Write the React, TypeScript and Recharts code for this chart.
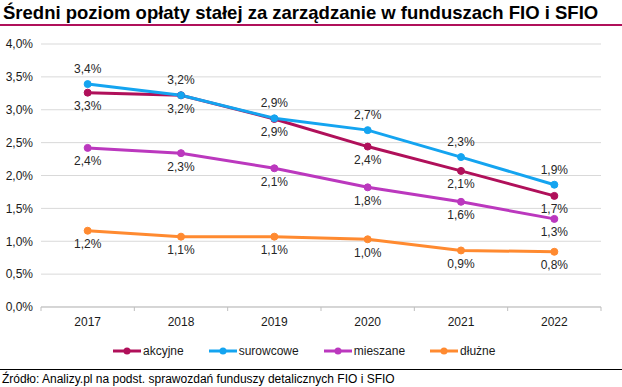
import { CartesianGrid, LabelList, Line, LineChart, XAxis, YAxis } from "recharts";

const years = ["2017", "2018", "2019", "2020", "2021", "2022"];
const akcyjne = [3.26, 3.22, 2.86, 2.44, 2.07, 1.69];
const surowcowe = [3.39, 3.22, 2.87, 2.69, 2.28, 1.86];
const mieszane = [2.42, 2.34, 2.11, 1.82, 1.6, 1.34];
const dluzne = [1.16, 1.07, 1.07, 1.03, 0.86, 0.84];
const yTicks = [0, 0.5, 1, 1.5, 2, 2.5, 3, 3.5, 4];

const W = 622;
const H = 387;
const M = { top: 44, right: 21, left: 0, bottom: 50 };
const Y_W = 41;
const BAND_HALF = (W - M.left - M.right - Y_W) / years.length / 2;

const data = years.map((year, i) => ({
  year,
  akcyjne: akcyjne[i],
  surowcowe: surowcowe[i],
  mieszane: mieszane[i],
  dluzne: dluzne[i],
}));

const series = [
  { key: "akcyjne", name: "akcyjne", color: "#B0105A", label: "bottom" },
  { key: "surowcowe", name: "surowcowe", color: "#14A4F0", label: "top" },
  { key: "mieszane", name: "mieszane", color: "#BB38BE", label: "bottom" },
  { key: "dluzne", name: "dłużne", color: "#FF8A30", label: "bottom" },
];

const FONT = "'Liberation Sans', Arial, sans-serif";
const pct = (v: number) => v.toFixed(1).replace(".", ",") + "%";

function YearTick(props: any) {
  const { x, y, payload, index } = props;
  return (
    <g>
      <line x1={x - BAND_HALF} x2={x - BAND_HALF} y1={y} y2={y + 4} stroke="#bfbfbf" />
      {index === years.length - 1 && (
        <line x1={x + BAND_HALF} x2={x + BAND_HALF} y1={y} y2={y + 4} stroke="#bfbfbf" />
      )}
      <text x={x} y={y + 19} textAnchor="middle" fontSize={12} fill="#1a1a1a" fontFamily={FONT}>
        {payload.value}
      </text>
    </g>
  );
}

export default function App() {
  return (
    <div
      style={{
        position: "fixed",
        left: 0,
        top: 0,
        width: W,
        height: H,
        background: "#fff",
        fontFamily: FONT,
      }}
    >
      <div
        style={{
          position: "absolute",
          left: 3,
          top: 2,
          fontSize: 18.5,
          fontWeight: 700,
          lineHeight: "22px",
          color: "#000",
          whiteSpace: "nowrap",
        }}
      >
        Średni poziom opłaty stałej za zarządzanie w funduszach FIO i SFIO
      </div>
      <div style={{ position: "absolute", left: 0, top: 24, width: W, height: 2, background: "#B0105A" }} />

      <div style={{ position: "absolute", left: 0, top: 0 }}>
        <LineChart width={W} height={H} data={data} margin={M}>
          <CartesianGrid vertical={false} stroke="#d9d9d9" />
          <XAxis
            dataKey="year"
            height={30}
            stroke="#bfbfbf"
            padding={{ left: BAND_HALF, right: BAND_HALF }}
            tickLine={false}
            tickSize={0}
            tickMargin={0}
            tick={<YearTick />}
            interval={0}
          />
          <YAxis
            width={Y_W}
            domain={[0, 4]}
            ticks={yTicks}
            tickFormatter={pct}
            axisLine={false}
            tickLine={false}
            tick={{ fontSize: 12, fill: "#1a1a1a", fontFamily: FONT }}
          />
          {series.map((s) => (
            <Line
              key={s.key}
              dataKey={s.key}
              name={s.name}
              stroke={s.color}
              strokeWidth={3}
              dot={{ r: 3.5, fill: s.color, stroke: s.color, strokeWidth: 1 }}
              isAnimationActive={false}
            >
              <LabelList
                dataKey={s.key}
                position={s.label as any}
                offset={s.label === "top" ? 11 : 9}
                formatter={(v: any) => pct(Number(v))}
                style={{ fontSize: 12, fill: "#262626", fontFamily: FONT }}
              />
            </Line>
          ))}
        </LineChart>
      </div>

      <div
        style={{
          position: "absolute",
          top: 343,
          left: 113,
          display: "flex",
          alignItems: "center",
          fontSize: 12,
          color: "#1a1a1a",
          lineHeight: "16px",
        }}
      >
        {series.map((s) => (
          <div key={s.key} style={{ display: "flex", alignItems: "center", marginRight: 25 }}>
            <svg width={28} height={10} style={{ marginRight: 2 }}>
              <line x1={0} x2={28} y1={5} y2={5} stroke={s.color} strokeWidth={3} />
              <circle cx={14} cy={5} r={3.5} fill={s.color} />
            </svg>
            <span>{s.name}</span>
          </div>
        ))}
      </div>

      <div style={{ position: "absolute", left: 0, top: 369, width: W, height: 1, background: "#000" }} />
      <div
        style={{
          position: "absolute",
          left: 2,
          top: 371,
          fontSize: 12,
          lineHeight: "16px",
          color: "#000",
          whiteSpace: "nowrap",
        }}
      >
        Źródło: Analizy.pl na podst. sprawozdań funduszy detalicznych FIO i SFIO
      </div>
    </div>
  );
}
